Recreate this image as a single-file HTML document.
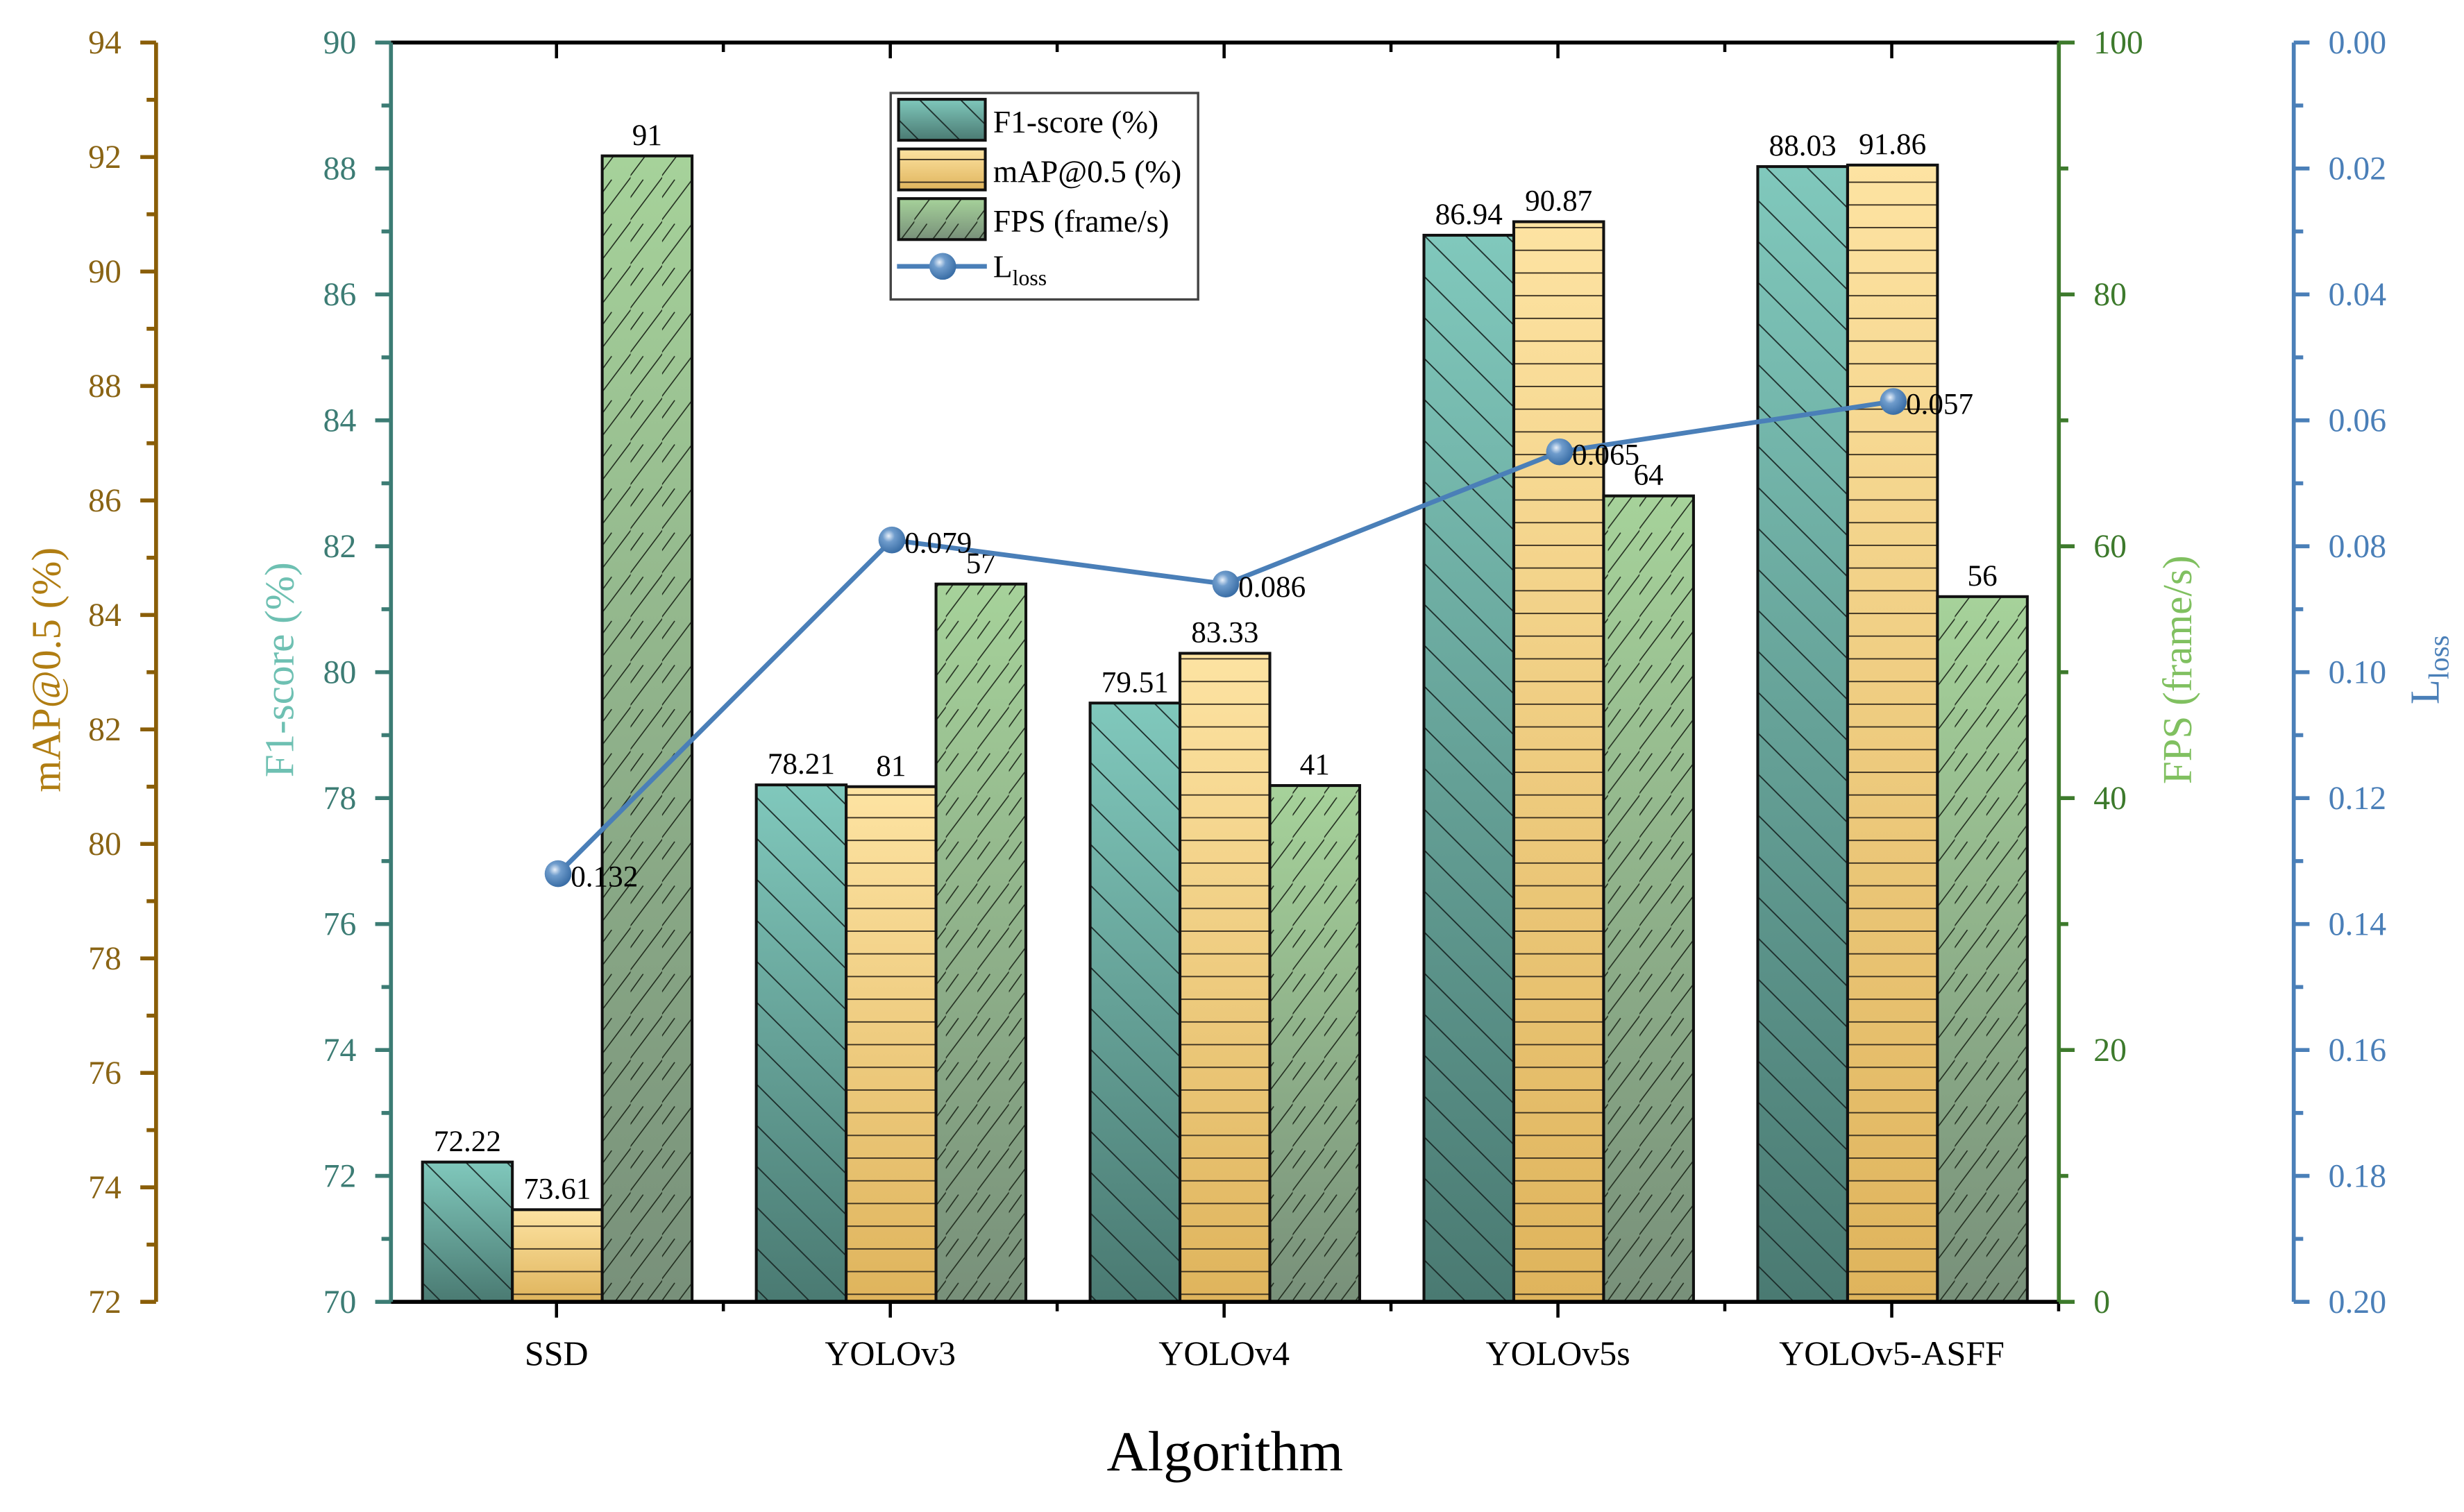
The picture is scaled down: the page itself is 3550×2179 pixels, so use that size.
<!DOCTYPE html>
<html><head><meta charset="utf-8"><style>
html,body{margin:0;padding:0;background:#fff;}
svg{display:block;}
text{font-family:"Liberation Serif",serif;}
</style></head>
<body>
<svg id="chart" xmlns="http://www.w3.org/2000/svg" width="3550" height="2179" viewBox="0 0 1563 959.35" preserveAspectRatio="none">
<defs>
<linearGradient id="gF1" x1="0" y1="0" x2="0" y2="1"><stop offset="0" stop-color="#80c8bc"/><stop offset="1" stop-color="#4a7a72"/></linearGradient>
<linearGradient id="gMap" x1="0" y1="0" x2="0" y2="1"><stop offset="0" stop-color="#fde3a2"/><stop offset="1" stop-color="#dfb45c"/></linearGradient>
<linearGradient id="gFps" x1="0" y1="0" x2="0" y2="1"><stop offset="0" stop-color="#a6d29a"/><stop offset="1" stop-color="#78907a"/></linearGradient>
<pattern id="hF1" patternUnits="userSpaceOnUse" width="26" height="26"><path d="M-5,-5 L31,31 M-5,21 L5,31 M21,-5 L31,5" stroke="#1a2a28" stroke-width="0.8"/></pattern>
<pattern id="hMap" patternUnits="userSpaceOnUse" width="20" height="14.4"><path d="M0,0.4 L20,0.4" stroke="#3a3020" stroke-width="0.8"/></pattern>
<pattern id="hFps" patternUnits="userSpaceOnUse" width="20" height="28"><path d="M-2,30 L22,-2 M-12,30 L8,2" stroke="#1f2a1c" stroke-width="0.7"/></pattern>
<radialGradient id="ball" cx="0.38" cy="0.35" r="0.65"><stop offset="0" stop-color="#e8f0fa"/><stop offset="0.35" stop-color="#6f9ccc"/><stop offset="1" stop-color="#3a6ea6"/></radialGradient>
</defs>
<g id="layer"></g>
</svg>
<script>
const categories = ["SSD","YOLOv3","YOLOv4","YOLOv5s","YOLOv5-ASFF"];
const f1Values = [72.22,78.21,79.51,86.94,88.03];
const mapValues = [73.61,81,83.33,90.87,91.86];
const fpsValues = [91,57,41,64,56];
const lossValues = [0.132,0.079,0.086,0.065,0.057];
const f1Ticks = [70,72,74,76,78,80,82,84,86,88,90];
const mapTicks = [72,74,76,78,80,82,84,86,88,90,92,94];
const fpsTicks = [0,20,40,60,80,100];
const lossTicks = ["0.00","0.02","0.04","0.06","0.08","0.10","0.12","0.14","0.16","0.18","0.20"];

const NS="http://www.w3.org/2000/svg";
const L=248,R=1306,T=27,B=826;
const layer=document.getElementById('layer');
function mk(tag,attrs,parent){const e=document.createElementNS(NS,tag);for(const k in attrs)e.setAttribute(k,attrs[k]);(parent||layer).appendChild(e);return e;}
const xCat=i=>353+i*211.75;
const yF1=v=>B-(v-70)/20*(B-T);
const yMap=v=>B-(v-72)/22*(B-T);
const yFps=v=>B-v/100*(B-T);
const yLoss=v=>T+v/0.2*(B-T);

const series=[
 {vals:f1Values,y:yF1,grad:'gF1',hatch:'hF1',off:-85,name:'f1-bar',fmt:v=>v.toFixed(2)},
 {vals:mapValues,y:yMap,grad:'gMap',hatch:'hMap',off:-28,name:'map-bar',fmt:v=>String(v)},
 {vals:fpsValues,y:yFps,grad:'gFps',hatch:'hFps',off:29,name:'fps-bar',fmt:v=>String(v)}
];
series.forEach(s=>{
 s.vals.forEach((v,i)=>{
  const x=xCat(i)+s.off, y=s.y(v), w=57;
  const g=mk('g',{});
  
  
  mk('rect',{x:x,y:y,width:w,height:B-y,fill:'url(#'+s.grad+')'},g);
  mk('rect',{x:x,y:y,width:w,height:B-y,fill:'url(#'+s.hatch+')',stroke:'#111','stroke-width':1.8},g);
  const t=mk('text',{x:x+w/2,y:y-7,'text-anchor':'middle','font-size':19,fill:'#000'});
  t.textContent=s.fmt(v);
  
  
 });
});

mk('line',{x1:L,y1:T,x2:R,y2:T,stroke:'#000','stroke-width':2.5});
mk('line',{x1:L,y1:B,x2:R,y2:B,stroke:'#000','stroke-width':2.5});
categories.forEach((c,i)=>{
 const x=xCat(i);
 mk('line',{x1:x,y1:T,x2:x,y2:T+10,stroke:'#000','stroke-width':2});
 mk('line',{x1:x,y1:B,x2:x,y2:B+10,stroke:'#000','stroke-width':2});
 const t=mk('text',{x:x,y:866,'text-anchor':'middle','font-size':22,fill:'#000'});
 t.textContent=c;
 
 
});
for(let i=0;i<=5;i++){const x=xCat(i)-105.9; if(x>L&&x<R){mk('line',{x1:x,y1:T,x2:x,y2:T+6,stroke:'#000','stroke-width':2});mk('line',{x1:x,y1:B,x2:x,y2:B+6,stroke:'#000','stroke-width':2});}}

function axis(x,ticks,yfn,color,labColor,dir,name){
 const g=mk('g',{});
 
 
 mk('line',{x1:x,y1:T,x2:x,y2:B,stroke:color,'stroke-width':2.5},g);
 ticks.forEach((tv,i)=>{
  const y=yfn(parseFloat(tv));
  mk('line',{x1:x,y1:y,x2:x+dir*10,y2:y,stroke:color,'stroke-width':2.5},g);
  if(i<ticks.length-1){const y2=(y+yfn(parseFloat(ticks[i+1])))/2;mk('line',{x1:x,y1:y2,x2:x+dir*6,y2:y2,stroke:color,'stroke-width':2.5},g);}
  const t=mk('text',{x:x+dir*22,y:y+7,'text-anchor':dir<0?'end':'start','font-size':21,fill:labColor},g);
  t.textContent=tv;
 });
}
axis(99,mapTicks,yMap,'#8a5e08','#8a6414',-1,'map-axis');
axis(L,f1Ticks,yF1,'#3c7c74','#3c7c74',-1,'f1-axis');
axis(R,fpsTicks,yFps,'#3d7a2c','#3d7a2c',1,'fps-axis');
axis(1455,lossTicks,v=>yLoss(v),'#4a7fb8','#4a7fb8',1,'loss-axis');

const pts=lossValues.map((v,i)=>[xCat(i)+1,yLoss(v)]);
const line=mk('polyline',{points:pts.map(p=>p.join(',')).join(' '),fill:'none',stroke:'#4a7fb8','stroke-width':3});


pts.forEach((p,i)=>{
 const c=mk('circle',{cx:p[0],cy:p[1],r:8.5,fill:'url(#ball)'});
 
 
 const t=mk('text',{x:p[0]+8,y:p[1]+8,'font-size':19,fill:'#000'});
 t.textContent=lossValues[i].toFixed(3);
 
 
});

function vtitle(x,y,txt,color,name){const t=mk('text',{x:x,y:y,'text-anchor':'middle','font-size':26,fill:color,transform:'rotate(-90 '+x+' '+y+')'});t.textContent=txt;return t;}
vtitle(38,425,'mAP@0.5 (%)','#b07d12','map-axis-title');
vtitle(186,425,'F1-score (%)','#6ec0b2','f1-axis-title');
vtitle(1390,425,'FPS (frame/s)','#80c060','fps-axis-title');
const lt=vtitle(1547,425,'','#4a7fb8','loss-axis-title');
lt.innerHTML='L<tspan font-size="18" dy="6">loss</tspan>';
const xt=mk('text',{x:777,y:933,'text-anchor':'middle','font-size':36,fill:'#000'});
xt.textContent='Algorithm';



const lg=mk('g',{});


mk('rect',{x:565,y:59,width:195,height:131,fill:'#fff',stroke:'#444','stroke-width':1.5},lg);
[['gF1','hF1','F1-score (%)'],['gMap','hMap','mAP@0.5 (%)'],['gFps','hFps','FPS (frame/s)']].forEach((e,i)=>{
 const y=63+i*31.5;
 mk('rect',{x:570,y:y,width:55,height:26,fill:'url(#'+e[0]+')'},lg);
 mk('rect',{x:570,y:y,width:55,height:26,fill:'url(#'+e[1]+')',stroke:'#111','stroke-width':1.8},lg);
 const t=mk('text',{x:630,y:y+21,'font-size':20,fill:'#000'},lg);
 t.textContent=e[2];
 
 
});
mk('line',{x1:569,y1:169,x2:626,y2:169,stroke:'#4a7fb8','stroke-width':3},lg);
mk('circle',{cx:598,cy:169,r:8.5,fill:'url(#ball)'},lg);
const ll=mk('text',{x:630,y:176,'font-size':20,fill:'#000'},lg);
ll.innerHTML='L<tspan font-size="14" dy="5">loss</tspan>';


</script>
</body></html>
